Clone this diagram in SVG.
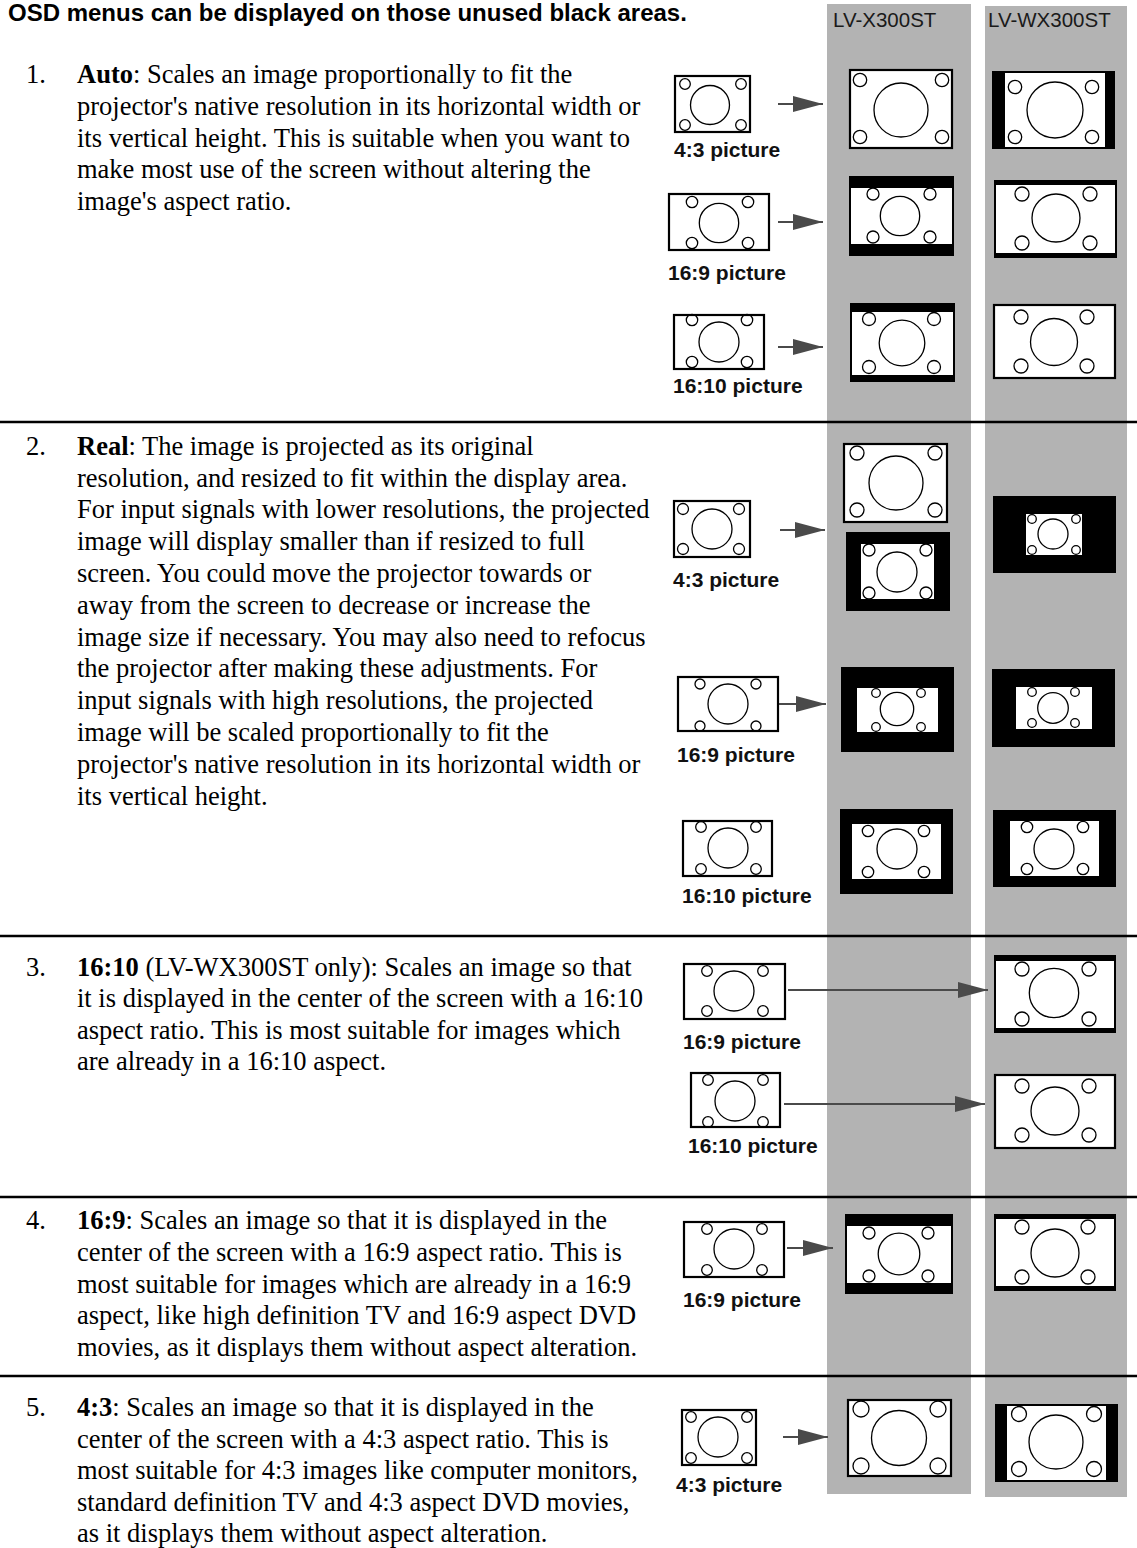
<svg xmlns="http://www.w3.org/2000/svg" width="1137" height="1548" viewBox="0 0 1137 1548">
<style>
.bg{fill:#fff}
.col{fill:#b3b3b3}
.rule{stroke:#000;stroke-width:2.5}
.frame{fill:#fff;stroke:#000;stroke-width:2.2}
.bk{fill:#000}
.wh{fill:#fff}
.c{fill:none;stroke:#000;stroke-width:1.3}
.lbl{font-family:"Liberation Sans",Arial,sans-serif;font-weight:bold;font-size:21px;fill:#111}
.hdr{font-family:"Liberation Sans",Arial,sans-serif;font-weight:bold;font-size:24px;fill:#000}
.colh{font-family:"Liberation Sans",Arial,sans-serif;font-size:20.5px;fill:#1a1a1a}
.body{font-family:"Liberation Serif","Times New Roman",serif;font-size:26.5px;fill:#000}
.b{font-weight:bold}
.arrow{stroke:#4a4a4a;stroke-width:2;fill:none;marker-end:url(#ah)}
</style>
<defs>
<marker id="ah" markerUnits="userSpaceOnUse" markerWidth="30" markerHeight="16" refX="30" refY="8" orient="auto">
<path d="M0,0 L30,8 L0,16 Z" fill="#4a4a4a"/>
</marker>
</defs>
<rect class="bg" x="0" y="0" width="1137" height="1548"/>
<rect class="col" x="827" y="4" width="144" height="1490"/>
<rect class="col" x="985" y="6" width="142" height="1491"/>
<line class="rule" x1="0" y1="422" x2="1137" y2="422"/>
<line class="rule" x1="0" y1="936" x2="1137" y2="936"/>
<line class="rule" x1="0" y1="1197" x2="1137" y2="1197"/>
<line class="rule" x1="0" y1="1376" x2="1137" y2="1376"/>
<text class="hdr" x="8" y="21">OSD menus can be displayed on those unused black areas.</text>
<text class="colh" x="833" y="27">LV-X300ST</text>
<text class="colh" x="988" y="27">LV-WX300ST</text>

<g id="text1" class="body">
<text x="26" y="83">1.</text>
<text x="77" y="83"><tspan class="b">Auto</tspan>: Scales an image proportionally to fit the</text>
<text x="77" y="115">projector's native resolution in its horizontal width or</text>
<text x="77" y="147">its vertical height. This is suitable when you want to</text>
<text x="77" y="178">make most use of the screen without altering the</text>
<text x="77" y="210">image's aspect ratio.</text>
</g>
<g id="text2" class="body">
<text x="26" y="455">2.</text>
<text x="77" y="455"><tspan class="b">Real</tspan>: The image is projected as its original</text>
<text x="77" y="487">resolution, and resized to fit within the display area.</text>
<text x="77" y="518">For input signals with lower resolutions, the projected</text>
<text x="77" y="550">image will display smaller than if resized to full</text>
<text x="77" y="582">screen. You could move the projector towards or</text>
<text x="77" y="614">away from the screen to decrease or increase the</text>
<text x="77" y="646">image size if necessary. You may also need to refocus</text>
<text x="77" y="677">the projector after making these adjustments. For</text>
<text x="77" y="709">input signals with high resolutions, the projected</text>
<text x="77" y="741">image will be scaled proportionally to fit the</text>
<text x="77" y="773">projector's native resolution in its horizontal width or</text>
<text x="77" y="805">its vertical height.</text>
</g>
<g id="text3" class="body">
<text x="26" y="976">3.</text>
<text x="77" y="976"><tspan class="b">16:10</tspan> (LV-WX300ST only): Scales an image so that</text>
<text x="77" y="1007">it is displayed in the center of the screen with a 16:10</text>
<text x="77" y="1039">aspect ratio. This is most suitable for images which</text>
<text x="77" y="1070">are already in a 16:10 aspect.</text>
</g>
<g id="text4" class="body">
<text x="26" y="1229">4.</text>
<text x="77" y="1229"><tspan class="b">16:9</tspan>: Scales an image so that it is displayed in the</text>
<text x="77" y="1261">center of the screen with a 16:9 aspect ratio. This is</text>
<text x="77" y="1293">most suitable for images which are already in a 16:9</text>
<text x="77" y="1324">aspect, like high definition TV and 16:9 aspect DVD</text>
<text x="77" y="1356">movies, as it displays them without aspect alteration.</text>
</g>
<g id="text5" class="body">
<text x="26" y="1416">5.</text>
<text x="77" y="1416"><tspan class="b">4:3</tspan>: Scales an image so that it is displayed in the</text>
<text x="77" y="1448">center of the screen with a 4:3 aspect ratio. This is</text>
<text x="77" y="1479">most suitable for 4:3 images like computer monitors,</text>
<text x="77" y="1511">standard definition TV and 4:3 aspect DVD movies,</text>
<text x="77" y="1542">as it displays them without aspect alteration.</text>
</g>

<!-- Section 1 -->
<g id="s1-src-43">
<rect class="frame" x="675" y="76" width="75" height="56"/>
<circle class="c" cx="685" cy="84" r="5.3"/><circle class="c" cx="741" cy="84" r="5.3"/>
<circle class="c" cx="685" cy="125" r="5.3"/><circle class="c" cx="741" cy="125" r="5.3"/>
<circle class="c" cx="710" cy="105" r="19.5"/>
<text class="lbl" x="674" y="157">4:3 picture</text>
</g>
<g id="s1-x-43">
<rect class="frame" x="850" y="70" width="102" height="78"/>
<circle class="c" cx="860" cy="80" r="6.7"/><circle class="c" cx="942" cy="80" r="6.7"/>
<circle class="c" cx="860" cy="137" r="6.7"/><circle class="c" cx="942" cy="137" r="6.7"/>
<circle class="c" cx="901" cy="110" r="27"/>
</g>
<g id="s1-wx-43">
<rect class="bk" x="992" y="71" width="123" height="78"/>
<rect class="wh" x="1005" y="73" width="100" height="74"/>
<circle class="c" cx="1015" cy="87" r="6.7"/><circle class="c" cx="1092" cy="87" r="6.7"/>
<circle class="c" cx="1015" cy="137" r="6.7"/><circle class="c" cx="1092" cy="137" r="6.7"/>
<circle class="c" cx="1055" cy="110" r="28"/>
</g>
<g id="s1-src-169">
<rect class="frame" x="669" y="194" width="100" height="56"/>
<circle class="c" cx="692" cy="202" r="5.7"/><circle class="c" cx="748" cy="202" r="5.7"/>
<circle class="c" cx="692" cy="243" r="5.7"/><circle class="c" cx="748" cy="243" r="5.7"/>
<circle class="c" cx="719" cy="223" r="19.7"/>
<text class="lbl" x="668" y="280">16:9 picture</text>
</g>
<g id="s1-x-169">
<rect class="bk" x="849" y="176" width="105" height="80"/>
<rect class="wh" x="851" y="188" width="101" height="56"/>
<circle class="c" cx="873" cy="194" r="6"/><circle class="c" cx="930" cy="194" r="6"/>
<circle class="c" cx="873" cy="237" r="6"/><circle class="c" cx="930" cy="237" r="6"/>
<circle class="c" cx="900" cy="216" r="19.7"/>
</g>
<g id="s1-wx-169">
<rect class="bk" x="994" y="180" width="123" height="78"/>
<rect class="wh" x="996" y="185" width="119" height="68"/>
<circle class="c" cx="1022" cy="194" r="7"/><circle class="c" cx="1090" cy="194" r="7"/>
<circle class="c" cx="1022" cy="243" r="7"/><circle class="c" cx="1090" cy="243" r="7"/>
<circle class="c" cx="1056" cy="218" r="24"/>
</g>
<g id="s1-src-1610">
<rect class="frame" x="674" y="315" width="90" height="54"/>
<circle class="c" cx="692" cy="320" r="5.7"/><circle class="c" cx="747" cy="320" r="5.7"/>
<circle class="c" cx="692" cy="362" r="5.7"/><circle class="c" cx="747" cy="362" r="5.7"/>
<circle class="c" cx="719" cy="342" r="20"/>
<text class="lbl" x="673" y="393">16:10 picture</text>
</g>
<g id="s1-x-1610">
<rect class="bk" x="850" y="303" width="105" height="79"/>
<rect class="wh" x="852" y="312" width="101" height="63"/>
<circle class="c" cx="869" cy="319" r="6.5"/><circle class="c" cx="934" cy="319" r="6.5"/>
<circle class="c" cx="869" cy="367" r="6.5"/><circle class="c" cx="934" cy="367" r="6.5"/>
<circle class="c" cx="902" cy="343" r="22.8"/>
</g>
<g id="s1-wx-1610">
<rect class="frame" x="994" y="305" width="121" height="73"/>
<circle class="c" cx="1021" cy="317" r="7"/><circle class="c" cx="1087" cy="317" r="7"/>
<circle class="c" cx="1021" cy="366" r="7"/><circle class="c" cx="1087" cy="366" r="7"/>
<circle class="c" cx="1054" cy="342" r="23.5"/>
</g>

<!-- Section 2 -->
<g id="s2-src-43">
<rect class="frame" x="674" y="501" width="76" height="56"/>
<circle class="c" cx="683" cy="509" r="5.5"/><circle class="c" cx="739" cy="509" r="5.5"/>
<circle class="c" cx="683" cy="549" r="5.5"/><circle class="c" cx="739" cy="549" r="5.5"/>
<circle class="c" cx="712" cy="529" r="20"/>
<text class="lbl" x="673" y="587">4:3 picture</text>
</g>
<g id="s2-x-43a">
<rect class="frame" x="844" y="444" width="103" height="78"/>
<circle class="c" cx="857" cy="453" r="7"/><circle class="c" cx="935" cy="453" r="7"/>
<circle class="c" cx="857" cy="510" r="7"/><circle class="c" cx="935" cy="510" r="7"/>
<circle class="c" cx="896" cy="483" r="27"/>
</g>
<g id="s2-x-43b">
<rect class="bk" x="846" y="532" width="104" height="79"/>
<rect class="wh" x="861" y="544" width="73" height="55"/>
<circle class="c" cx="869" cy="550" r="6"/><circle class="c" cx="926" cy="550" r="6"/>
<circle class="c" cx="869" cy="593" r="6"/><circle class="c" cx="926" cy="593" r="6"/>
<circle class="c" cx="897" cy="572" r="20"/>
</g>
<g id="s2-wx-43">
<rect class="bk" x="993" y="496" width="123" height="77"/>
<rect class="wh" x="1026" y="514" width="56" height="41"/>
<circle class="c" cx="1032" cy="519" r="4.3"/><circle class="c" cx="1076" cy="519" r="4.3"/>
<circle class="c" cx="1032" cy="550" r="4.3"/><circle class="c" cx="1076" cy="550" r="4.3"/>
<circle class="c" cx="1053" cy="534" r="15"/>
</g>
<g id="s2-src-169">
<rect class="frame" x="678" y="677" width="100" height="54"/>
<circle class="c" cx="700" cy="684" r="5"/><circle class="c" cx="756" cy="684" r="5"/>
<circle class="c" cx="700" cy="726" r="5"/><circle class="c" cx="756" cy="726" r="5"/>
<circle class="c" cx="728" cy="704" r="20"/>
<text class="lbl" x="677" y="762">16:9 picture</text>
</g>
<g id="s2-x-169">
<rect class="bk" x="841" y="667" width="113" height="85"/>
<rect class="wh" x="857" y="688" width="81" height="44"/>
<circle class="c" cx="876" cy="693" r="4.3"/><circle class="c" cx="921" cy="693" r="4.3"/>
<circle class="c" cx="876" cy="727" r="4.3"/><circle class="c" cx="921" cy="727" r="4.3"/>
<circle class="c" cx="897" cy="709" r="16.7"/>
</g>
<g id="s2-wx-169">
<rect class="bk" x="992" y="669" width="123" height="78"/>
<rect class="wh" x="1016" y="687" width="76" height="42"/>
<circle class="c" cx="1032" cy="692" r="4.3"/><circle class="c" cx="1075" cy="692" r="4.3"/>
<circle class="c" cx="1032" cy="723" r="4.3"/><circle class="c" cx="1075" cy="723" r="4.3"/>
<circle class="c" cx="1053" cy="708" r="15.3"/>
</g>
<g id="s2-src-1610">
<rect class="frame" x="683" y="821" width="89" height="55"/>
<circle class="c" cx="701" cy="827" r="5.3"/><circle class="c" cx="756" cy="827" r="5.3"/>
<circle class="c" cx="701" cy="869" r="5.3"/><circle class="c" cx="756" cy="869" r="5.3"/>
<circle class="c" cx="728" cy="848" r="20"/>
<text class="lbl" x="682" y="903">16:10 picture</text>
</g>
<g id="s2-x-1610">
<rect class="bk" x="840" y="809" width="113" height="85"/>
<rect class="wh" x="852" y="824" width="89" height="55"/>
<circle class="c" cx="868" cy="831" r="5.7"/><circle class="c" cx="924" cy="831" r="5.7"/>
<circle class="c" cx="868" cy="872" r="5.7"/><circle class="c" cx="924" cy="872" r="5.7"/>
<circle class="c" cx="897" cy="849" r="20"/>
</g>
<g id="s2-wx-1610">
<rect class="bk" x="993" y="810" width="123" height="77"/>
<rect class="wh" x="1010" y="821" width="89" height="55"/>
<circle class="c" cx="1027" cy="827" r="5.7"/><circle class="c" cx="1083" cy="827" r="5.7"/>
<circle class="c" cx="1027" cy="869" r="5.7"/><circle class="c" cx="1083" cy="869" r="5.7"/>
<circle class="c" cx="1054" cy="849" r="20"/>
</g>

<!-- Section 3 -->
<g id="s3-src-169">
<rect class="frame" x="684" y="964" width="101" height="55"/>
<circle class="c" cx="707" cy="971" r="5.3"/><circle class="c" cx="763" cy="971" r="5.3"/>
<circle class="c" cx="707" cy="1011" r="5.3"/><circle class="c" cx="763" cy="1011" r="5.3"/>
<circle class="c" cx="734" cy="991" r="20"/>
<text class="lbl" x="683" y="1049">16:9 picture</text>
</g>
<g id="s3-wx-169">
<rect class="bk" x="994" y="955" width="122" height="78"/>
<rect class="wh" x="996" y="961" width="118" height="67"/>
<circle class="c" cx="1022" cy="969" r="7"/><circle class="c" cx="1089" cy="969" r="7"/>
<circle class="c" cx="1022" cy="1019" r="7"/><circle class="c" cx="1089" cy="1019" r="7"/>
<circle class="c" cx="1054" cy="993" r="24.7"/>
</g>
<g id="s3-src-1610">
<rect class="frame" x="691" y="1073" width="89" height="54"/>
<circle class="c" cx="708" cy="1080" r="5.3"/><circle class="c" cx="763" cy="1080" r="5.3"/>
<circle class="c" cx="708" cy="1122" r="5.3"/><circle class="c" cx="763" cy="1122" r="5.3"/>
<circle class="c" cx="735" cy="1101" r="20"/>
<text class="lbl" x="688" y="1153">16:10 picture</text>
</g>
<g id="s3-wx-1610">
<rect class="frame" x="995" y="1075" width="120" height="73"/>
<circle class="c" cx="1022" cy="1086" r="7"/><circle class="c" cx="1089" cy="1086" r="7"/>
<circle class="c" cx="1022" cy="1135" r="7"/><circle class="c" cx="1089" cy="1135" r="7"/>
<circle class="c" cx="1055" cy="1111" r="24"/>
</g>

<!-- Section 4 -->
<g id="s4-src-169">
<rect class="frame" x="684" y="1222" width="100" height="55"/>
<circle class="c" cx="707" cy="1229" r="5.3"/><circle class="c" cx="762" cy="1229" r="5.3"/>
<circle class="c" cx="707" cy="1270" r="5.3"/><circle class="c" cx="762" cy="1270" r="5.3"/>
<circle class="c" cx="734" cy="1249" r="20"/>
<text class="lbl" x="683" y="1307">16:9 picture</text>
</g>
<g id="s4-x-169">
<rect class="bk" x="845" y="1214" width="108" height="80"/>
<rect class="wh" x="847" y="1226" width="104" height="57"/>
<circle class="c" cx="869" cy="1233" r="6"/><circle class="c" cx="928" cy="1233" r="6"/>
<circle class="c" cx="869" cy="1276" r="6"/><circle class="c" cx="928" cy="1276" r="6"/>
<circle class="c" cx="899" cy="1254" r="20.8"/>
</g>
<g id="s4-wx-169">
<rect class="bk" x="994" y="1214" width="122" height="77"/>
<rect class="wh" x="996" y="1219" width="118" height="67"/>
<circle class="c" cx="1022" cy="1227" r="7"/><circle class="c" cx="1088" cy="1227" r="7"/>
<circle class="c" cx="1022" cy="1277" r="7"/><circle class="c" cx="1088" cy="1277" r="7"/>
<circle class="c" cx="1055" cy="1253" r="24"/>
</g>

<!-- Section 5 -->
<g id="s5-src-43">
<rect class="frame" x="682" y="1410" width="74" height="55"/>
<circle class="c" cx="691" cy="1417" r="5.3"/><circle class="c" cx="747" cy="1417" r="5.3"/>
<circle class="c" cx="691" cy="1458" r="5.3"/><circle class="c" cx="747" cy="1458" r="5.3"/>
<circle class="c" cx="718" cy="1437" r="20"/>
<text class="lbl" x="676" y="1492">4:3 picture</text>
</g>
<g id="s5-x-43">
<rect class="frame" x="848" y="1400" width="103" height="76"/>
<circle class="c" cx="861" cy="1409" r="8"/><circle class="c" cx="938" cy="1409" r="8"/>
<circle class="c" cx="861" cy="1466" r="8"/><circle class="c" cx="938" cy="1466" r="8"/>
<circle class="c" cx="899" cy="1438" r="27.5"/>
</g>
<g id="s5-wx-43">
<rect class="bk" x="995" y="1404" width="123" height="78"/>
<rect class="wh" x="1007" y="1406" width="99" height="74"/>
<circle class="c" cx="1019" cy="1414" r="7.5"/><circle class="c" cx="1094" cy="1414" r="7.5"/>
<circle class="c" cx="1019" cy="1469" r="7.5"/><circle class="c" cx="1094" cy="1469" r="7.5"/>
<circle class="c" cx="1056" cy="1442" r="27"/>
</g>

<g id="connectors">
<line class="arrow" x1="778" y1="104" x2="823" y2="104"/>
<line class="arrow" x1="778" y1="222" x2="823" y2="222"/>
<line class="arrow" x1="778" y1="347" x2="823" y2="347"/>
<line class="arrow" x1="780" y1="530" x2="825" y2="530"/>
<line class="arrow" x1="779" y1="704" x2="826" y2="704"/>
<line class="arrow" x1="788" y1="990" x2="988" y2="990"/>
<line class="arrow" x1="784" y1="1104" x2="985" y2="1104"/>
<line class="arrow" x1="787" y1="1248" x2="833" y2="1248"/>
<line class="arrow" x1="783" y1="1437" x2="828" y2="1437"/>
</g>
</svg>
